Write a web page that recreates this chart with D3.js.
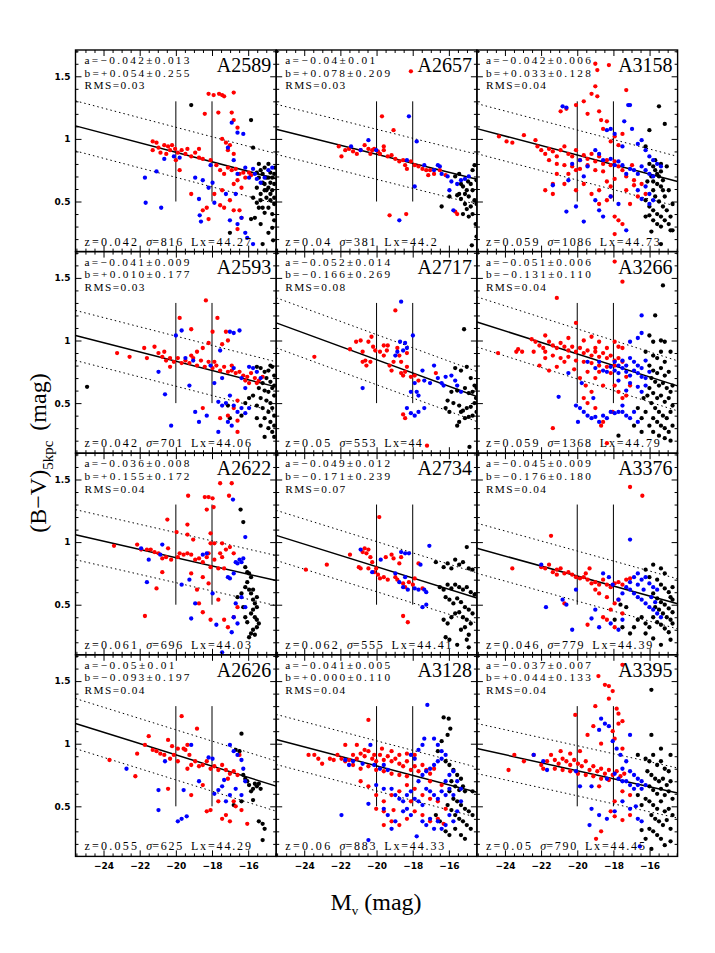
<!DOCTYPE html>
<html>
<head>
<meta charset="utf-8">
<script src="https://cdn.jsdelivr.net/npm/d3@7"></script>
<style>
  body { margin: 0; background: #fff; }
</style>
</head>
<body>
<div id="my_dataviz"></div>
<script>

// cluster names and the text printed in each panel
const clusterNames = ["A2589","A2657","A3158","A2593","A2717","A3266","A2622","A2734","A3376","A2626","A3128","A3395"];
const aLabels = ["−0.042±0.013","−0.04±0.01","−0.042±0.006","−0.041±0.009","−0.052±0.014","−0.051±0.006","−0.036±0.008","−0.049±0.012","−0.045±0.009","−0.05±0.01","−0.041±0.005","−0.037±0.007"];
const bLabels = ["+0.054±0.255","+0.078±0.209","+0.033±0.128","+0.010±0.177","−0.166±0.269","−0.131±0.110","+0.155±0.172","−0.171±0.239","−0.176±0.180","−0.093±0.197","+0.000±0.110","+0.044±0.133"];
const rmsLabels = ["0.03","0.03","0.04","0.03","0.08","0.04","0.04","0.07","0.04","0.04","0.04","0.04"];
const zLabels = ["0.042","0.04","0.059","0.042","0.05","0.059","0.061","0.062","0.046","0.055","0.06","0.05"];
const sigmaLabels = ["816","381","1086","701","553","1368","696","555","779","625","883","790"];
const lxLabels = ["44.27","44.2","44.73","44.06","44","44.79","44.03","44.41","44.39","44.29","44.33","44.45"];

// red sequence fit: slope and colour at Mv = -20
const fitSlope = [-0.038,-0.036,-0.038,-0.037,-0.053,-0.046,-0.033,-0.045,-0.040,-0.045,-0.038,-0.032];
const fitAt20  = [0.893,0.877,0.871,0.835,0.847,0.893,0.876,0.804,0.729,0.911,0.823,0.784];

const xTicks = [-24,-22,-20,-18,-16];
const yTicks = [0.5,1,1.5];

// galaxies per cluster: [Mv, (B-V)]
const A2589 = {
  red: [[-21.28,0.98],[-21.07,0.97],[-20.96,0.93],[-21.28,0.91],[-20.64,0.95],[-20.43,0.94],[-20.21,0.95],[-20.32,0.91],[-20.04,0.92],[-19.89,0.89],[-19.68,0.91],[-19.47,0.88],[-19.36,0.92],[-19.15,0.86],[-18.93,0.89],[-18.72,0.85],[-18.51,0.84],[-18.40,1.20],[-18.19,1.36],[-17.91,1.35],[-17.61,1.36],[-17.44,1.35],[-17.33,1.34],[-16.80,1.37],[-17.65,1.21],[-16.91,1.21],[-16.80,1.15],[-16.59,1.09],[-17.44,1.00],[-17.23,0.97],[-17.12,0.91],[-17.01,0.95],[-16.80,0.88],[-17.76,0.79],[-17.55,0.75],[-17.33,0.72],[-17.12,0.77],[-16.91,0.75],[-16.69,0.76],[-16.48,0.72],[-16.27,0.73],[-16.16,0.69],[-15.95,0.73],[-16.59,0.67],[-16.80,0.64],[-16.37,0.61],[-17.44,0.59],[-17.87,0.56],[-18.29,0.45],[-18.51,0.43],[-18.19,0.36],[-17.55,0.47],[-17.33,0.45],[-17.01,0.51],[-16.48,0.43],[-16.37,0.37],[-16.59,0.28],[-16.80,0.43],[-15.84,0.71],[-19.15,0.56],[-19.79,0.75],[-20.00,0.83],[-20.85,0.89],[-20.53,0.88],[-18.08,0.83],[-18.72,0.92]],
  blue: [[-21.71,0.69],[-21.07,0.74],[-21.67,0.49],[-20.81,0.45],[-20.64,0.84],[-20.11,0.86],[-19.79,0.85],[-18.93,0.69],[-18.08,0.79],[-18.19,0.61],[-18.51,0.67],[-17.97,0.65],[-18.72,0.52],[-18.68,0.39],[-18.61,0.34],[-17.87,0.49],[-17.23,0.56],[-16.91,1.13],[-16.59,1.05],[-16.27,1.04],[-17.12,0.93],[-16.80,0.83],[-16.59,0.72],[-16.16,0.77],[-15.95,0.69],[-15.73,0.76],[-15.63,0.72],[-15.52,0.68],[-17.01,0.35],[-16.59,0.32],[-16.37,0.37],[-16.16,0.25],[-16.05,0.21],[-15.73,0.16],[-15.31,0.65],[-15.09,0.69],[-14.88,0.75],[-14.67,0.77],[-16.69,0.56]],
  black: [[-19.15,1.27],[-15.84,1.15],[-15.73,0.93],[-15.41,0.80],[-15.31,0.75],[-15.20,0.72],[-15.09,0.77],[-14.99,0.69],[-14.88,0.80],[-14.77,0.73],[-14.67,0.69],[-14.56,0.72],[-15.09,0.64],[-14.88,0.61],[-14.67,0.59],[-15.31,0.56],[-14.99,0.53],[-14.77,0.51],[-14.56,0.48],[-15.20,0.45],[-15.09,0.41],[-14.67,0.40],[-15.52,0.49],[-15.73,0.53],[-15.52,0.61],[-14.88,0.45],[-14.56,0.35],[-14.67,0.29],[-15.63,0.37],[-15.84,0.36],[-15.31,0.32],[-14.88,0.25],[-17.01,0.25],[-15.20,0.16],[-14.62,0.19],[-14.56,0.64],[-15.41,0.69],[-14.77,0.65],[-14.99,0.59],[-15.31,0.51],[-14.88,0.69],[-14.52,0.77],[-15.52,0.73],[-15.09,0.59],[-14.77,0.56],[-15.20,0.65],[-15.41,0.45],[-14.56,0.53]]
};

const A2657 = {
  red: [[-22.09,0.94],[-21.94,0.86],[-21.73,0.91],[-21.52,0.92],[-21.30,0.90],[-21.09,0.88],[-20.88,0.91],[-20.66,0.95],[-20.45,0.92],[-20.24,0.91],[-20.13,0.92],[-19.92,0.90],[-19.81,0.88],[-19.60,0.91],[-19.38,0.86],[-19.17,0.87],[-18.96,0.84],[-18.74,0.82],[-18.53,0.83],[-18.42,0.79],[-18.32,0.76],[-18.10,0.82],[-17.89,0.79],[-17.68,0.78],[-17.46,0.76],[-17.25,0.75],[-17.14,0.71],[-17.04,0.75],[-16.82,0.72],[-19.70,1.18],[-19.06,1.07],[-18.10,1.54],[-19.28,0.39],[-18.36,0.40],[-16.50,0.75],[-16.18,0.71],[-15.65,0.42],[-15.54,0.40],[-19.60,0.94],[-20.34,0.88]],
  blue: [[-21.41,0.94],[-20.45,0.99],[-20.88,0.91],[-20.02,0.91],[-18.21,1.18],[-17.78,0.98],[-18.32,0.83],[-17.36,0.79],[-16.82,0.75],[-16.61,0.79],[-16.40,0.72],[-16.07,0.70],[-15.86,0.66],[-15.54,0.64],[-15.33,0.67],[-15.11,0.68],[-17.89,0.62],[-18.74,0.35],[-16.50,0.78],[-15.75,0.43],[-14.90,0.70],[-15.97,0.59]],
  black: [[-16.40,0.46],[-15.97,0.54],[-15.65,0.70],[-15.43,0.72],[-15.33,0.64],[-15.22,0.62],[-15.11,0.56],[-15.01,0.59],[-14.90,0.54],[-14.79,0.64],[-14.69,0.75],[-14.58,0.79],[-14.69,0.59],[-14.58,0.51],[-14.79,0.46],[-14.69,0.40],[-14.52,0.32],[-14.90,0.38],[-15.11,0.48],[-15.33,0.52],[-15.43,0.56],[-14.47,0.22],[-14.73,0.15],[-14.47,0.48],[-15.01,0.44],[-15.22,0.40],[-15.54,0.55],[-14.47,0.67],[-14.94,0.66]]
};

const A3158 = {
  red: [[-24.33,1.02],[-23.91,0.98],[-23.59,0.97],[-22.95,1.03],[-22.31,0.99],[-22.20,0.94],[-21.99,0.91],[-21.77,0.88],[-21.56,0.92],[-21.35,0.90],[-21.13,0.86],[-20.92,0.91],[-20.71,0.94],[-20.49,0.88],[-20.28,0.86],[-20.07,0.91],[-19.85,0.83],[-19.64,0.87],[-19.43,0.84],[-19.21,0.88],[-19.00,0.82],[-18.79,0.86],[-18.57,0.80],[-18.36,0.83],[-18.15,0.79],[-17.93,0.82],[-17.72,0.78],[-17.50,0.75],[-21.56,0.83],[-21.13,0.80],[-20.71,0.79],[-20.28,0.78],[-19.85,0.76],[-19.43,0.79],[-19.00,0.75],[-18.57,0.74],[-20.92,1.22],[-20.60,1.24],[-20.07,1.27],[-19.64,1.30],[-19.43,1.20],[-19.21,1.36],[-19.00,1.42],[-18.89,1.34],[-18.79,1.22],[-18.68,1.15],[-18.57,1.08],[-18.36,1.14],[-18.15,0.98],[-17.93,1.02],[-17.72,0.95],[-17.29,1.39],[-17.50,1.04],[-19.00,1.60],[-18.89,1.55],[-18.25,1.59],[-18.79,0.59],[-18.36,0.51],[-18.15,0.54],[-17.93,0.38],[-17.72,0.35],[-17.50,0.32],[-18.79,0.48],[-19.21,0.56],[-17.29,0.59],[-16.86,0.63],[-16.44,0.64],[-16.22,0.56],[-16.65,0.54],[-17.08,0.48],[-17.93,0.68],[-18.15,0.62],[-18.36,0.66],[-19.64,0.64],[-20.07,0.75],[-20.49,0.72],[-21.13,0.72],[-21.35,0.64],[-21.77,0.59],[-20.07,0.59],[-20.71,0.64],[-17.29,0.70],[-16.86,0.67],[-17.93,0.24],[-21.35,0.56],[-16.97,0.79]],
  blue: [[-20.81,1.26],[-20.60,1.25],[-21.35,0.63],[-20.60,0.42],[-20.07,0.46],[-19.64,0.34],[-19.00,0.91],[-18.79,0.88],[-18.57,0.83],[-18.36,1.07],[-18.15,1.08],[-17.93,1.04],[-17.50,0.94],[-17.18,1.27],[-17.08,1.27],[-17.40,1.14],[-16.97,1.08],[-16.65,0.96],[-16.44,0.99],[-16.22,0.91],[-16.01,0.86],[-15.80,0.83],[-15.58,0.80],[-15.37,0.78],[-16.44,0.78],[-16.22,0.75],[-16.01,0.72],[-15.80,0.70],[-16.65,0.72],[-17.08,0.76],[-17.50,0.79],[-17.72,0.82],[-17.93,0.79],[-18.15,0.84],[-17.29,0.72],[-16.86,0.75],[-16.65,0.59],[-16.44,0.52],[-16.22,0.62],[-16.01,0.56],[-15.80,0.51],[-17.72,0.48],[-17.29,0.27],[-19.00,0.51],[-18.79,0.43],[-18.57,0.38],[-18.15,0.54],[-19.85,0.83],[-19.43,0.78],[-20.28,0.80],[-20.49,0.67],[-19.64,0.70],[-16.01,0.48]],
  black: [[-15.48,1.26],[-15.16,1.12],[-16.01,1.07],[-16.22,0.94],[-16.01,0.80],[-15.80,0.78],[-15.69,0.75],[-15.58,0.72],[-15.48,0.70],[-15.37,0.74],[-15.26,0.67],[-15.80,0.66],[-15.90,0.70],[-16.12,0.66],[-15.58,0.64],[-15.37,0.62],[-15.80,0.59],[-16.22,0.51],[-16.01,0.46],[-15.80,0.43],[-15.58,0.40],[-15.37,0.38],[-15.16,0.35],[-14.94,0.32],[-14.84,0.27],[-15.80,0.35],[-15.58,0.32],[-15.37,0.30],[-16.22,0.38],[-16.01,0.39],[-15.69,0.54],[-15.48,0.50],[-15.26,0.46],[-15.05,0.43],[-14.84,0.38],[-15.90,0.26],[-15.37,0.16],[-14.73,0.27],[-15.69,0.83],[-15.37,0.80],[-15.05,0.78],[-15.16,0.54],[-14.73,0.48],[-14.94,0.59],[-15.26,0.59]]
};

const A2593 = {
  red: [[-23.25,0.90],[-22.56,0.87],[-21.75,0.94],[-21.60,0.86],[-21.18,0.95],[-20.96,0.90],[-20.75,0.87],[-20.54,0.84],[-20.32,0.86],[-20.11,0.83],[-19.89,0.86],[-19.68,0.82],[-19.47,0.84],[-19.25,0.82],[-19.04,0.86],[-18.83,0.80],[-18.61,0.84],[-18.40,0.79],[-18.19,0.83],[-17.97,0.78],[-17.76,0.80],[-17.55,0.76],[-17.33,0.79],[-17.12,0.75],[-16.91,0.76],[-16.69,0.74],[-16.48,0.75],[-16.27,0.72],[-16.05,0.71],[-15.84,0.74],[-15.63,0.70],[-15.41,0.68],[-15.20,0.71],[-18.34,1.32],[-17.70,1.18],[-17.97,1.07],[-17.12,1.00],[-17.23,1.07],[-17.44,0.97],[-18.19,0.98],[-18.51,0.94],[-18.83,0.91],[-19.15,0.88],[-19.79,1.18],[-19.15,1.09],[-17.87,0.83],[-16.91,0.80],[-16.16,0.68],[-15.95,0.66],[-15.52,0.66],[-17.55,0.38],[-17.12,0.40],[-18.51,0.46],[-16.80,0.46],[-16.59,0.36],[-16.59,0.27],[-16.59,0.52],[-20.32,0.79],[-20.64,0.91]],
  blue: [[-20.96,0.75],[-20.60,0.57],[-20.26,0.32],[-20.00,1.04],[-19.68,1.08],[-19.47,0.86],[-19.25,0.64],[-19.04,0.84],[-18.93,0.43],[-18.72,0.35],[-18.29,0.40],[-18.08,0.80],[-17.87,0.66],[-17.55,0.92],[-17.44,0.70],[-17.01,1.07],[-16.80,1.06],[-16.48,1.08],[-17.01,0.56],[-16.80,0.48],[-16.59,0.43],[-16.37,0.46],[-16.16,0.42],[-15.95,0.46],[-17.65,0.51],[-17.44,0.48],[-17.23,0.50],[-16.80,0.78],[-16.37,0.70],[-15.95,0.79],[-15.73,0.78],[-15.52,0.75],[-15.31,0.70],[-16.16,0.62],[-17.65,0.27],[-17.12,0.35],[-16.91,0.32]],
  black: [[-24.91,0.63],[-15.52,0.79],[-15.31,0.78],[-15.09,0.75],[-14.88,0.76],[-14.67,0.79],[-14.56,0.72],[-14.99,0.70],[-14.77,0.67],[-15.20,0.66],[-15.41,0.62],[-15.09,0.60],[-14.88,0.59],[-14.67,0.62],[-14.56,0.56],[-15.31,0.54],[-14.99,0.52],[-14.77,0.50],[-15.52,0.48],[-15.20,0.46],[-14.88,0.43],[-14.67,0.46],[-14.56,0.40],[-15.09,0.38],[-14.77,0.35],[-15.31,0.32],[-14.88,0.30],[-14.67,0.27],[-14.56,0.23],[-15.09,0.23],[-15.73,0.56],[-15.95,0.54],[-16.16,0.50],[-16.37,0.40],[-17.01,0.38],[-17.12,0.48],[-15.52,0.38],[-14.56,0.64],[-14.77,0.80],[-14.56,0.32]]
};

const A2717 = {
  red: [[-23.44,0.87],[-21.47,0.93],[-21.13,0.99],[-20.88,1.00],[-20.77,0.91],[-20.62,0.84],[-20.45,0.99],[-20.28,1.03],[-20.19,0.95],[-20.07,0.92],[-20.34,0.83],[-20.56,0.80],[-19.81,0.91],[-19.60,0.88],[-19.43,0.92],[-19.28,0.80],[-19.17,0.76],[-19.06,0.83],[-18.96,1.24],[-18.85,0.94],[-18.74,0.88],[-18.64,0.83],[-18.53,0.72],[-18.42,0.75],[-18.32,0.79],[-18.64,0.74],[-18.10,0.71],[-17.89,0.72],[-17.68,0.68],[-16.72,0.74],[-18.32,0.90],[-19.38,0.96],[-20.77,0.83],[-18.53,0.41],[-18.42,0.38],[-17.21,0.16],[-19.60,0.96]],
  blue: [[-20.77,0.62],[-18.64,1.31],[-18.85,0.91],[-18.70,0.99],[-18.42,0.98],[-18.32,0.94],[-18.53,0.92],[-18.96,0.88],[-17.99,1.04],[-17.46,0.76],[-17.89,0.66],[-18.10,0.59],[-17.78,0.59],[-17.36,0.68],[-17.04,0.66],[-16.82,0.80],[-16.61,0.70],[-16.40,0.66],[-16.18,0.71],[-15.86,0.72],[-15.65,0.68],[-15.54,0.64],[-18.32,0.46],[-18.10,0.42],[-17.89,0.40],[-17.68,0.43],[-17.36,0.46],[-16.29,0.64],[-15.33,0.59],[-17.68,0.56]],
  black: [[-15.16,1.09],[-15.65,0.78],[-15.33,0.76],[-15.01,0.79],[-14.79,0.70],[-14.58,0.64],[-14.47,0.62],[-14.69,0.59],[-14.90,0.58],[-15.11,0.62],[-15.54,0.60],[-15.86,0.59],[-16.07,0.52],[-15.75,0.50],[-15.43,0.48],[-15.22,0.44],[-15.01,0.46],[-14.79,0.47],[-14.58,0.50],[-14.47,0.43],[-14.69,0.40],[-14.90,0.39],[-15.11,0.38],[-15.43,0.35],[-15.54,0.32],[-15.33,0.43],[-16.18,0.46],[-15.97,0.43],[-14.50,0.54],[-14.86,0.15]]
};

const A3266 = {
  red: [[-24.38,0.90],[-23.27,0.93],[-23.05,0.91],[-22.52,1.01],[-22.31,0.99],[-22.09,0.96],[-21.88,0.94],[-21.77,1.04],[-21.56,0.99],[-21.35,0.96],[-21.13,0.94],[-20.92,0.98],[-20.71,0.95],[-20.49,0.92],[-20.28,0.95],[-20.07,0.91],[-19.85,0.94],[-19.64,0.90],[-19.43,0.92],[-19.21,0.88],[-19.00,0.91],[-18.79,0.87],[-18.57,0.90],[-18.36,0.86],[-18.15,0.88],[-17.93,0.84],[-17.72,0.86],[-17.50,0.83],[-21.77,0.91],[-21.35,0.88],[-20.92,0.86],[-20.49,0.87],[-20.07,0.84],[-19.64,0.83],[-19.21,0.82],[-18.79,0.80],[-18.36,0.79],[-17.93,0.80],[-21.13,1.34],[-20.07,1.14],[-19.21,1.03],[-18.79,0.99],[-17.93,0.99],[-17.72,0.95],[-18.36,0.94],[-17.50,0.94],[-22.09,0.80],[-21.56,0.76],[-21.13,0.79],[-20.71,0.83],[-19.43,0.75],[-19.00,0.70],[-19.85,0.70],[-19.53,0.64],[-19.21,0.59],[-19.64,0.54],[-19.43,0.50],[-19.00,0.46],[-18.57,0.35],[-18.04,0.43],[-17.93,0.64],[-17.72,0.59],[-17.50,0.54],[-17.29,0.56],[-17.08,0.64],[-18.57,0.64],[-21.35,0.30],[-18.68,0.32],[-20.17,0.77],[-17.93,1.63],[-17.50,1.47],[-18.36,0.18],[-21.77,0.86],[-22.41,0.91],[-23.37,0.91],[-19.64,1.00],[-20.49,1.02],[-19.00,0.94],[-18.15,0.74],[-17.29,0.71],[-18.79,0.75]],
  blue: [[-21.03,0.55],[-20.07,0.48],[-19.96,0.35],[-19.85,0.46],[-19.64,0.43],[-19.43,0.40],[-19.21,0.38],[-19.00,0.39],[-18.79,0.35],[-18.57,0.40],[-18.36,0.38],[-18.15,0.43],[-17.93,0.42],[-17.72,0.43],[-17.50,0.43],[-17.29,0.40],[-17.08,0.38],[-16.86,0.43],[-16.65,0.35],[-16.44,1.06],[-16.44,1.20],[-16.65,1.02],[-17.08,0.99],[-17.93,0.83],[-17.72,0.80],[-17.50,0.84],[-17.29,0.80],[-17.08,0.86],[-16.86,0.83],[-16.65,0.80],[-16.44,0.78],[-16.22,0.84],[-16.01,0.75],[-17.93,0.76],[-17.72,0.74],[-17.50,0.78],[-17.29,0.75],[-17.08,0.72],[-16.86,0.76],[-16.65,0.74],[-16.44,0.71],[-16.22,0.70],[-17.72,0.68],[-17.08,0.66],[-16.65,0.63],[-16.44,0.59],[-16.22,0.64],[-17.29,0.60],[-18.36,0.75],[-18.57,0.76],[-18.79,0.83],[-19.00,0.78],[-18.15,0.79],[-19.43,0.83],[-19.75,0.66],[-20.49,0.74],[-19.11,0.54],[-17.50,0.48]],
  black: [[-15.26,1.44],[-15.69,1.20],[-16.01,1.04],[-15.80,0.99],[-15.37,1.00],[-16.22,0.91],[-15.80,0.88],[-15.58,0.86],[-15.37,0.91],[-15.16,0.83],[-16.01,0.80],[-15.80,0.76],[-15.58,0.74],[-15.37,0.78],[-15.16,0.72],[-14.94,0.75],[-15.90,0.70],[-15.69,0.67],[-15.48,0.64],[-15.26,0.66],[-15.05,0.62],[-14.84,0.59],[-16.01,0.62],[-15.80,0.58],[-15.58,0.54],[-15.37,0.56],[-15.16,0.51],[-14.94,0.54],[-14.73,0.48],[-15.90,0.50],[-15.69,0.46],[-15.48,0.43],[-15.26,0.40],[-15.05,0.38],[-14.84,0.43],[-15.80,0.38],[-15.58,0.35],[-15.37,0.32],[-15.16,0.30],[-14.94,0.27],[-14.73,0.32],[-16.22,0.43],[-16.44,0.38],[-16.65,0.46],[-16.01,0.32],[-15.80,0.27],[-15.48,0.24],[-15.16,0.22],[-14.84,0.20],[-17.72,0.24],[-16.44,0.27],[-16.86,0.32],[-16.12,0.56],[-16.33,0.54],[-15.16,0.99],[-14.84,0.91],[-14.73,0.64]]
};

const A2622 = {
  red: [[-23.42,0.97],[-22.14,0.98],[-21.92,0.94],[-21.60,0.94],[-21.39,0.94],[-21.18,0.92],[-20.96,0.91],[-20.75,0.87],[-20.54,0.88],[-20.43,0.95],[-20.26,0.86],[-21.07,0.63],[-21.71,0.41],[-20.75,0.76],[-20.47,1.18],[-19.96,1.08],[-19.79,0.91],[-19.57,0.90],[-19.36,0.91],[-19.15,0.90],[-18.93,0.86],[-18.72,0.87],[-18.51,0.84],[-18.29,0.88],[-18.08,0.80],[-17.87,0.86],[-17.65,0.79],[-17.44,0.88],[-17.23,0.94],[-17.01,0.96],[-16.80,0.91],[-19.36,1.14],[-19.36,1.06],[-19.32,1.37],[-18.40,1.36],[-18.19,1.36],[-17.97,1.35],[-17.91,1.28],[-18.29,1.26],[-18.08,1.07],[-17.55,1.47],[-16.91,1.47],[-17.06,1.37],[-17.87,0.99],[-17.44,0.99],[-17.33,0.79],[-19.15,0.75],[-18.83,0.62],[-18.72,0.51],[-18.51,0.44],[-18.08,0.38],[-17.65,0.54],[-17.33,0.38],[-17.12,0.32],[-18.19,0.67],[-16.80,0.40],[-16.59,0.48],[-18.51,0.72],[-19.89,0.88],[-18.19,0.91],[-19.04,1.02],[-18.08,0.99],[-17.55,0.91]],
  blue: [[-21.92,0.95],[-21.60,0.68],[-21.50,0.86],[-20.75,0.98],[-20.86,0.90],[-19.68,0.66],[-19.25,0.70],[-19.15,0.39],[-18.93,0.51],[-18.51,0.90],[-18.29,0.91],[-17.97,0.59],[-17.76,0.34],[-17.01,0.71],[-16.80,0.75],[-16.69,0.84],[-16.59,0.83],[-16.48,0.86],[-16.37,0.84],[-16.27,0.87],[-16.80,0.40],[-16.91,0.28],[-16.69,0.51],[-16.59,0.35],[-16.16,1.04],[-16.84,1.34],[-17.44,0.12],[-17.12,0.72],[-16.37,0.56],[-16.16,0.48]],
  black: [[-16.42,1.26],[-16.27,1.16],[-16.16,0.80],[-16.05,0.76],[-15.95,0.75],[-15.84,0.72],[-16.05,0.68],[-16.16,0.64],[-15.95,0.62],[-15.84,0.59],[-15.73,0.54],[-15.63,0.51],[-15.52,0.48],[-15.73,0.46],[-15.84,0.43],[-15.63,0.40],[-15.52,0.38],[-15.41,0.35],[-15.52,0.32],[-15.73,0.30],[-15.84,0.27],[-15.95,0.24],[-15.63,0.26],[-16.37,0.59],[-16.59,0.56],[-16.27,0.48],[-16.16,0.40],[-16.05,0.36],[-15.73,0.62],[-15.52,0.56]]
};

const A2734 = {
  red: [[-23.91,0.78],[-22.75,0.82],[-21.47,0.90],[-20.98,0.80],[-20.88,0.79],[-20.77,0.92],[-20.66,0.95],[-20.56,0.91],[-20.45,0.94],[-20.34,0.88],[-20.24,0.84],[-20.13,0.76],[-20.02,0.79],[-19.92,0.74],[-19.85,1.20],[-19.81,0.71],[-19.60,0.72],[-19.49,0.88],[-19.38,0.70],[-19.17,0.90],[-19.06,0.87],[-18.96,0.72],[-18.85,0.70],[-18.74,0.83],[-18.64,0.88],[-18.53,0.67],[-18.42,0.64],[-18.21,0.68],[-17.99,0.66],[-17.89,0.71],[-17.68,0.83],[-18.53,0.41],[-18.27,0.36],[-17.46,0.63],[-20.45,0.79]],
  blue: [[-20.88,0.94],[-19.77,0.86],[-20.24,0.76],[-18.96,0.75],[-18.64,0.92],[-18.42,0.91],[-18.21,0.91],[-18.42,0.72],[-18.74,0.68],[-18.53,0.64],[-17.89,0.63],[-17.68,0.62],[-17.36,0.62],[-17.25,0.60],[-17.57,0.82],[-17.08,0.97],[-17.46,0.48],[-17.25,0.50],[-18.27,0.62]],
  black: [[-16.72,0.84],[-16.29,0.80],[-16.07,0.83],[-15.86,0.79],[-15.65,0.86],[-15.43,0.82],[-15.22,0.84],[-15.01,0.96],[-14.90,0.79],[-14.69,0.78],[-16.50,0.64],[-16.29,0.62],[-16.07,0.66],[-15.86,0.63],[-15.65,0.66],[-15.43,0.64],[-15.22,0.62],[-15.01,0.64],[-14.79,0.60],[-14.58,0.58],[-16.18,0.56],[-15.97,0.54],[-15.75,0.51],[-15.54,0.55],[-15.33,0.52],[-15.11,0.48],[-14.90,0.46],[-14.69,0.43],[-16.29,0.38],[-16.07,0.35],[-15.86,0.40],[-15.65,0.43],[-15.43,0.44],[-15.22,0.40],[-15.01,0.38],[-14.79,0.35],[-16.18,0.24],[-15.97,0.22],[-15.33,0.30],[-15.11,0.32],[-14.90,0.26],[-15.01,0.22],[-14.90,0.16],[-15.54,0.18]]
};

const A3376 = {
  red: [[-23.59,0.79],[-21.45,1.05],[-21.99,0.80],[-21.77,0.79],[-21.56,0.82],[-21.35,0.76],[-21.13,0.78],[-20.92,0.79],[-20.71,0.75],[-20.49,0.76],[-20.28,0.74],[-20.07,0.72],[-19.85,0.71],[-19.64,0.72],[-19.43,0.70],[-19.21,0.67],[-19.00,0.68],[-18.79,0.66],[-18.57,0.70],[-18.36,0.66],[-18.15,0.64],[-17.93,0.67],[-17.72,0.68],[-17.50,0.66],[-17.29,0.70],[-17.08,0.71],[-19.00,0.62],[-18.79,0.59],[-18.36,0.56],[-18.15,0.46],[-17.93,0.51],[-17.72,0.54],[-18.57,0.40],[-18.36,0.38],[-17.93,0.32],[-17.50,0.43],[-19.43,0.34],[-17.08,1.44],[-16.40,1.37],[-20.71,0.51],[-21.13,0.74],[-19.53,0.75],[-19.32,0.79]],
  blue: [[-21.99,0.82],[-21.73,0.48],[-20.81,0.54],[-20.60,0.50],[-20.28,0.30],[-20.07,0.62],[-19.21,0.39],[-18.79,0.32],[-18.57,0.75],[-18.25,0.72],[-18.04,0.66],[-17.72,0.54],[-17.50,0.59],[-17.29,0.64],[-17.08,0.68],[-16.86,0.72],[-16.65,0.75],[-16.44,0.70],[-16.22,0.72],[-16.01,0.67],[-15.80,0.64],[-15.58,0.62],[-17.08,0.62],[-16.86,0.59],[-16.65,0.56],[-16.44,0.54],[-16.22,0.51],[-16.01,0.48],[-15.80,0.46],[-15.58,0.43],[-15.37,0.40],[-17.08,1.02],[-17.72,0.30],[-18.15,0.35],[-16.65,0.66],[-16.33,0.62],[-15.90,0.56],[-15.69,0.52],[-17.50,0.38],[-19.00,0.46]],
  black: [[-15.80,0.82],[-15.37,0.79],[-15.16,0.75],[-16.22,0.78],[-16.01,0.72],[-15.58,0.70],[-15.37,0.66],[-15.16,0.63],[-14.94,0.60],[-14.84,0.56],[-15.80,0.59],[-15.58,0.55],[-15.37,0.52],[-15.16,0.50],[-14.94,0.47],[-14.73,0.44],[-15.69,0.48],[-15.48,0.46],[-15.26,0.43],[-15.05,0.40],[-14.84,0.38],[-14.73,0.35],[-15.80,0.40],[-15.58,0.36],[-15.37,0.34],[-15.16,0.31],[-14.94,0.28],[-16.22,0.35],[-16.01,0.32],[-16.44,0.40],[-16.65,0.38],[-16.86,0.32],[-17.08,0.27],[-17.50,0.32],[-17.93,0.38],[-16.22,0.27],[-15.80,0.23],[-15.37,0.18],[-14.84,0.22],[-17.29,0.48],[-17.61,0.50],[-14.73,0.54],[-14.73,0.64]]
};

const A2626 = {
  red: [[-23.67,0.87],[-22.24,0.74],[-22.14,0.92],[-21.71,0.99],[-21.50,1.06],[-21.28,0.95],[-21.07,0.94],[-20.86,0.92],[-20.64,0.91],[-20.43,1.03],[-20.32,0.88],[-20.11,0.91],[-19.89,0.86],[-19.68,1.22],[-19.57,0.96],[-19.47,0.95],[-19.36,0.80],[-19.25,0.91],[-19.15,0.83],[-18.93,0.86],[-18.83,1.12],[-18.72,0.82],[-18.51,0.83],[-18.29,0.86],[-18.08,0.80],[-17.87,0.82],[-17.65,0.79],[-17.44,0.83],[-17.23,0.79],[-17.01,0.76],[-16.80,0.78],[-16.59,0.75],[-16.48,0.91],[-20.43,0.64],[-19.15,0.59],[-18.51,0.67],[-18.29,0.46],[-18.08,0.47],[-17.65,0.54],[-17.44,0.40],[-17.23,0.43],[-17.01,0.38],[-16.80,0.54],[-16.69,0.50],[-16.37,0.47],[-16.05,0.36],[-17.12,0.72],[-19.89,0.96],[-19.36,0.99],[-20.21,0.98]],
  blue: [[-22.73,0.80],[-20.96,0.63],[-20.96,0.47],[-20.60,0.86],[-19.89,0.38],[-19.68,0.40],[-19.40,0.42],[-19.57,0.63],[-19.15,0.99],[-18.72,0.70],[-18.19,0.89],[-17.97,0.88],[-17.65,0.63],[-17.44,0.66],[-17.33,0.71],[-17.01,0.99],[-16.80,0.94],[-16.59,0.91],[-16.37,0.87],[-16.27,0.80],[-16.16,0.70],[-16.37,0.59],[-16.69,0.64],[-17.01,0.59],[-17.23,0.54],[-17.87,0.60]],
  black: [[-16.37,1.08],[-16.69,0.95],[-16.48,0.94],[-16.27,0.75],[-16.16,0.72],[-16.05,0.70],[-15.95,0.67],[-15.73,0.64],[-15.63,0.68],[-15.52,0.66],[-15.41,0.68],[-15.31,0.64],[-15.84,0.62],[-15.73,0.55],[-16.37,0.54],[-15.41,0.38],[-15.20,0.36],[-15.09,0.32],[-15.20,0.23],[-16.80,0.51]]
};

const A3128 = {
  red: [[-23.76,0.91],[-23.44,0.91],[-23.22,0.88],[-23.01,0.84],[-22.58,0.88],[-22.37,0.87],[-22.16,0.91],[-21.94,0.88],[-21.73,0.86],[-21.52,0.87],[-21.30,0.91],[-21.09,0.88],[-20.88,0.92],[-20.66,0.90],[-20.45,0.94],[-20.24,0.88],[-20.02,0.86],[-19.81,0.91],[-19.60,0.87],[-19.38,0.90],[-19.17,0.86],[-18.96,0.88],[-18.74,0.84],[-18.53,0.82],[-18.32,0.86],[-18.10,0.79],[-17.89,0.82],[-17.68,0.78],[-17.46,0.83],[-17.25,0.79],[-17.04,0.76],[-16.82,0.80],[-21.73,0.99],[-21.09,0.99],[-20.66,0.95],[-20.13,0.91],[-19.70,0.96],[-19.17,0.94],[-18.74,0.91],[-18.32,0.92],[-17.89,0.91],[-20.45,1.19],[-21.30,0.83],[-20.88,0.80],[-20.45,0.82],[-20.02,0.79],[-19.60,0.78],[-19.17,0.76],[-18.74,0.75],[-18.32,0.74],[-20.88,0.70],[-20.45,0.66],[-20.02,0.59],[-19.60,0.54],[-19.17,0.59],[-18.74,0.62],[-18.32,0.67],[-17.89,0.64],[-17.46,0.59],[-17.04,0.56],[-16.61,0.54],[-19.60,0.46],[-19.17,0.38],[-18.74,0.35],[-18.32,0.40],[-17.89,0.46],[-17.46,0.43],[-17.04,0.38],[-16.61,0.40],[-16.29,0.36],[-16.18,0.48],[-20.02,0.48],[-19.60,0.35],[-19.06,0.47],[-18.10,0.54],[-17.04,0.70],[-16.40,0.67]],
  blue: [[-21.94,0.43],[-21.73,0.87],[-21.52,0.83],[-21.30,0.86],[-20.77,0.84],[-20.34,0.99],[-20.13,0.83],[-19.81,0.80],[-19.60,0.83],[-19.38,0.79],[-19.17,0.64],[-18.96,0.59],[-18.74,0.56],[-18.53,0.54],[-18.32,0.59],[-18.10,0.62],[-17.89,0.56],[-17.68,0.54],[-17.46,0.51],[-17.25,0.64],[-17.04,0.62],[-16.82,0.59],[-16.61,0.56],[-16.40,0.62],[-16.18,0.59],[-15.97,0.64],[-15.75,0.59],[-17.68,0.70],[-17.46,0.75],[-17.25,0.78],[-17.04,0.80],[-16.82,0.83],[-16.61,0.86],[-16.40,0.88],[-16.18,0.91],[-18.10,0.91],[-17.89,0.88],[-17.68,0.95],[-17.46,0.99],[-17.36,1.04],[-17.19,1.31],[-16.82,1.04],[-16.61,0.99],[-16.40,0.94],[-19.60,0.48],[-19.38,0.43],[-19.17,0.32],[-18.96,0.38],[-18.53,0.46],[-18.10,0.43],[-17.78,0.26],[-17.46,0.38],[-17.25,0.35],[-17.04,0.40],[-16.82,0.32],[-16.61,0.38],[-16.40,0.32],[-16.18,0.35],[-15.97,0.43],[-15.75,0.38],[-15.54,0.46],[-15.33,0.54],[-16.18,0.70],[-15.97,0.75],[-15.75,0.78],[-15.54,0.70],[-15.33,0.64],[-20.45,0.52],[-20.02,0.67],[-19.60,0.64],[-18.32,0.48],[-20.45,0.23]],
  black: [[-16.29,1.21],[-16.01,1.20],[-15.92,1.12],[-16.07,1.07],[-16.40,1.02],[-16.61,0.94],[-16.18,0.86],[-15.97,0.83],[-15.75,0.79],[-15.54,0.75],[-15.33,0.72],[-15.86,0.70],[-15.65,0.66],[-15.43,0.63],[-15.22,0.66],[-15.11,0.62],[-15.97,0.62],[-15.75,0.56],[-15.54,0.54],[-15.33,0.51],[-15.11,0.48],[-14.90,0.46],[-16.07,0.51],[-15.86,0.47],[-15.65,0.43],[-15.43,0.40],[-15.22,0.38],[-15.01,0.35],[-14.79,0.32],[-16.18,0.30],[-15.97,0.27],[-15.65,0.32],[-15.33,0.27],[-15.11,0.24],[-16.72,0.43],[-16.50,0.38],[-14.69,0.43],[-14.69,0.62]]
};

const A3395 = {
  red: [[-23.80,0.79],[-23.48,0.91],[-22.95,0.86],[-22.41,0.91],[-21.99,0.83],[-21.88,0.80],[-21.67,0.86],[-21.45,0.91],[-21.24,0.87],[-21.03,0.84],[-20.81,0.88],[-20.60,0.86],[-20.39,0.83],[-20.17,0.87],[-19.96,0.84],[-19.75,0.82],[-19.53,0.86],[-19.32,0.79],[-19.11,0.82],[-18.89,0.78],[-18.68,0.80],[-18.47,0.76],[-18.25,0.79],[-18.04,0.75],[-17.82,0.78],[-17.61,0.74],[-17.40,0.76],[-21.24,0.80],[-20.81,0.79],[-20.39,0.78],[-19.96,0.76],[-19.53,0.75],[-19.11,0.74],[-18.68,0.72],[-18.25,0.71],[-20.11,1.23],[-18.83,1.54],[-18.47,1.47],[-18.25,1.46],[-18.25,1.36],[-18.04,1.42],[-17.82,1.28],[-17.72,1.24],[-17.72,1.16],[-18.04,1.10],[-17.93,1.04],[-17.50,1.18],[-19.00,1.30],[-18.68,1.00],[-17.50,0.96],[-18.79,0.66],[-18.15,0.46],[-17.93,0.42],[-17.50,0.39],[-17.08,0.43],[-18.96,0.24],[-18.68,0.30],[-17.93,0.54],[-17.50,0.62],[-17.08,0.59],[-17.50,1.63],[-19.11,1.14],[-19.43,1.07],[-19.85,0.94],[-20.39,0.92],[-20.92,0.94]],
  blue: [[-22.41,0.91],[-21.88,0.86],[-21.67,0.79],[-20.07,0.78],[-19.85,0.66],[-19.21,0.66],[-18.68,1.20],[-18.47,1.16],[-18.25,1.14],[-18.04,1.02],[-18.79,1.11],[-17.82,0.96],[-17.61,0.91],[-17.08,1.07],[-17.29,0.86],[-17.50,0.80],[-17.08,0.78],[-16.86,0.75],[-16.65,0.72],[-16.44,0.70],[-16.22,0.67],[-17.29,0.70],[-17.08,0.67],[-16.86,0.64],[-16.65,0.67],[-16.44,0.64],[-17.50,0.70],[-17.72,0.72],[-17.93,0.76],[-18.36,0.72],[-19.21,0.48],[-18.79,0.43],[-18.36,0.40],[-17.93,0.46],[-17.50,0.54],[-17.08,0.48],[-16.65,0.40],[-16.44,0.38],[-19.32,0.35],[-16.54,0.18],[-16.76,0.50]],
  black: [[-15.90,1.43],[-15.90,1.07],[-16.22,0.88],[-16.01,0.86],[-15.80,0.91],[-15.58,0.83],[-15.37,0.86],[-15.16,0.80],[-14.94,0.78],[-16.12,0.78],[-15.90,0.75],[-15.69,0.72],[-15.48,0.70],[-15.26,0.72],[-15.05,0.67],[-14.84,0.70],[-16.01,0.66],[-15.80,0.63],[-15.58,0.60],[-15.37,0.64],[-15.16,0.59],[-14.94,0.62],[-14.73,0.56],[-16.22,0.56],[-16.01,0.54],[-15.80,0.51],[-15.58,0.48],[-15.37,0.54],[-15.16,0.46],[-14.94,0.48],[-14.73,0.43],[-15.90,0.43],[-15.69,0.40],[-15.48,0.38],[-15.26,0.35],[-15.05,0.39],[-14.84,0.32],[-16.01,0.32],[-15.80,0.30],[-15.58,0.27],[-15.37,0.24],[-16.44,0.31],[-16.22,0.24],[-15.16,0.19],[-14.84,0.22],[-15.90,0.16],[-16.65,0.59],[-16.44,0.51],[-16.65,0.91],[-15.37,0.96],[-14.84,0.91]]
};

const clusters = [A2589, A2657, A3158, A2593, A2717, A3266, A2622, A2734, A3376, A2626, A3128, A3395];

// set the dimensions of the panel grid
const left0 = 75.5, top0 = 50, pw = 200.7, ph = 201.6;

const svg = d3.select("#my_dataviz")
  .append("svg")
    .attr("width", 715)
    .attr("height", 953)
    .style("font-family", "'Liberation Serif', 'Times New Roman', serif");

svg.append("defs").append("clipPath").attr("id", "panelclip")
  .append("rect").attr("width", pw).attr("height", ph);

// same scales for every panel
const x = d3.scaleLinear().domain([-25.55, -14.45]).range([0, pw]);
const y = d3.scaleLinear().domain([0.1, 1.71]).range([ph, 0]);

const xMinor = d3.range(-25.5, -14.4, 0.5).filter(v => v % 2 !== 0);
const yMinor = d3.range(2, 18).map(v => v / 10).filter(v => !yTicks.includes(v));

// the plot font is wide: about 7.5 px per character at this size
const charW = 7.5;

clusters.forEach(function(cl, i) {
  const col = i % 3, row = Math.floor(i / 3);
  const g = svg.append("g")
    .attr("transform", `translate(${left0 + col * pw}, ${top0 + row * ph})`);

  const plot = g.append("g").attr("clip-path", "url(#panelclip)");

  // fitted red sequence and the +/- 0.2 mag band
  const fit = m => fitAt20[i] + fitSlope[i] * (m + 20);
  [0, 0.2, -0.2].forEach(function(off) {
    plot.append("line")
      .attr("x1", x(-25.55)).attr("y1", y(fit(-25.55) + off))
      .attr("x2", x(-14.45)).attr("y2", y(fit(-14.45) + off))
      .attr("stroke", "#000")
      .attr("stroke-width", off ? 1 : 1.5)
      .attr("stroke-dasharray", off ? "1.5,3" : null);
  });

  // magnitude limits
  [-20, -18].forEach(function(m) {
    plot.append("line")
      .attr("x1", x(m)).attr("x2", x(m))
      .attr("y1", y(0.5)).attr("y2", y(1.3))
      .attr("stroke", "#000")
      .attr("stroke-width", 1);
  });

  // galaxies
  [["black", "#000"], ["red", "#ff0000"], ["blue", "#0000ff"]].forEach(function([key, c]) {
    plot.append("g")
      .selectAll("circle")
      .data(cl[key])
      .join("circle")
        .attr("cx", d => x(d[0]))
        .attr("cy", d => y(d[1]))
        .attr("r", 2.15)
        .style("fill", c);
  });

  // ticks on all four sides, pointing inwards
  const tidy = sel => sel.call(s => s.select(".domain").remove())
    .call(s => s.selectAll("line").attr("stroke", "#000").attr("stroke-width", 1));

  g.append("g").attr("transform", `translate(0, ${ph})`)
    .call(d3.axisBottom(x).tickValues(xTicks).tickSize(-6).tickPadding(6)
      .tickFormat(row === 3 ? d3.format("d") : ""))
    .call(tidy)
    .call(s => s.selectAll("text").style("font-family", "'DejaVu Sans', sans-serif")
      .style("font-size", "9px").style("font-weight", "bold").attr("fill", "#000"));
  g.append("g").attr("transform", `translate(0, ${ph})`)
    .call(d3.axisBottom(x).tickValues(xMinor).tickSize(-3).tickFormat(""))
    .call(tidy);
  g.append("g")
    .call(d3.axisTop(x).tickValues(xTicks).tickSize(-6).tickFormat(""))
    .call(tidy);
  g.append("g")
    .call(d3.axisTop(x).tickValues(xMinor).tickSize(-3).tickFormat(""))
    .call(tidy);

  g.append("g")
    .call(d3.axisLeft(y).tickValues(yTicks).tickSize(-6).tickPadding(5)
      .tickFormat(col === 0 ? d3.format("") : ""))
    .call(tidy)
    .call(s => s.selectAll("text").style("font-family", "'DejaVu Sans', sans-serif")
      .style("font-size", "9px").style("font-weight", "bold").attr("fill", "#000"));
  g.append("g")
    .call(d3.axisLeft(y).tickValues(yMinor).tickSize(-3).tickFormat(""))
    .call(tidy);
  g.append("g").attr("transform", `translate(${pw}, 0)`)
    .call(d3.axisRight(y).tickValues(yTicks).tickSize(-6).tickFormat(""))
    .call(tidy);
  g.append("g").attr("transform", `translate(${pw}, 0)`)
    .call(d3.axisRight(y).tickValues(yMinor).tickSize(-3).tickFormat(""))
    .call(tidy);

  // frame
  g.append("rect")
    .attr("width", pw).attr("height", ph)
    .attr("fill", "none")
    .attr("stroke", "#000")
    .attr("stroke-width", 1.4);

  // fit numbers, top left
  const info = [`a=${aLabels[i]}`, `b=${bLabels[i]}`, `RMS=${rmsLabels[i]}`];
  info.forEach(function(t, k) {
    g.append("text")
      .attr("x", 9).attr("y", 14 + k * 12.7)
      .attr("textLength", t.length * charW)
      .attr("lengthAdjust", "spacing")
      .style("font-size", "11.3px")
      .text(t);
  });

  // cluster name, top right
  g.append("text")
    .attr("x", pw - 5).attr("y", 22)
    .attr("text-anchor", "end")
    .style("font-size", "20px")
    .text(clusterNames[i]);

  // redshift, dispersion and X-ray luminosity, bottom
  const zt = `z=${zLabels[i]}`, st = `=${sigmaLabels[i]}`, lt = `Lx=${lxLabels[i]}`;
  const bottom = g.append("text")
    .attr("x", 9).attr("y", ph - 6)
    .style("font-size", "12px");
  bottom.append("tspan").attr("textLength", zt.length * charW).attr("lengthAdjust", "spacing").text(zt);
  bottom.append("tspan").attr("dx", 7).style("font-style", "italic").text("σ");
  bottom.append("tspan").attr("textLength", st.length * charW).attr("lengthAdjust", "spacing").text(st);
  bottom.append("tspan").attr("dx", 7).attr("textLength", lt.length * charW).attr("lengthAdjust", "spacing").text(lt);
});

// axis titles
const yt = svg.append("text")
  .attr("transform", "translate(46, 453) rotate(-90)")
  .attr("text-anchor", "middle")
  .style("font-size", "24px");
yt.append("tspan").text("(B−V)");
yt.append("tspan").attr("dy", 7).style("font-size", "15px").text("5kpc");
yt.append("tspan").attr("dy", -7).attr("dx", 10).text("(mag)");

const xt = svg.append("text")
  .attr("x", 376).attr("y", 910)
  .attr("text-anchor", "middle")
  .style("font-size", "24px");
xt.append("tspan").text("M");
xt.append("tspan").attr("dy", 5).style("font-size", "13px").text("v");
xt.append("tspan").attr("dy", -5).attr("dx", 6).text("(mag)");

</script>
</body>
</html>
